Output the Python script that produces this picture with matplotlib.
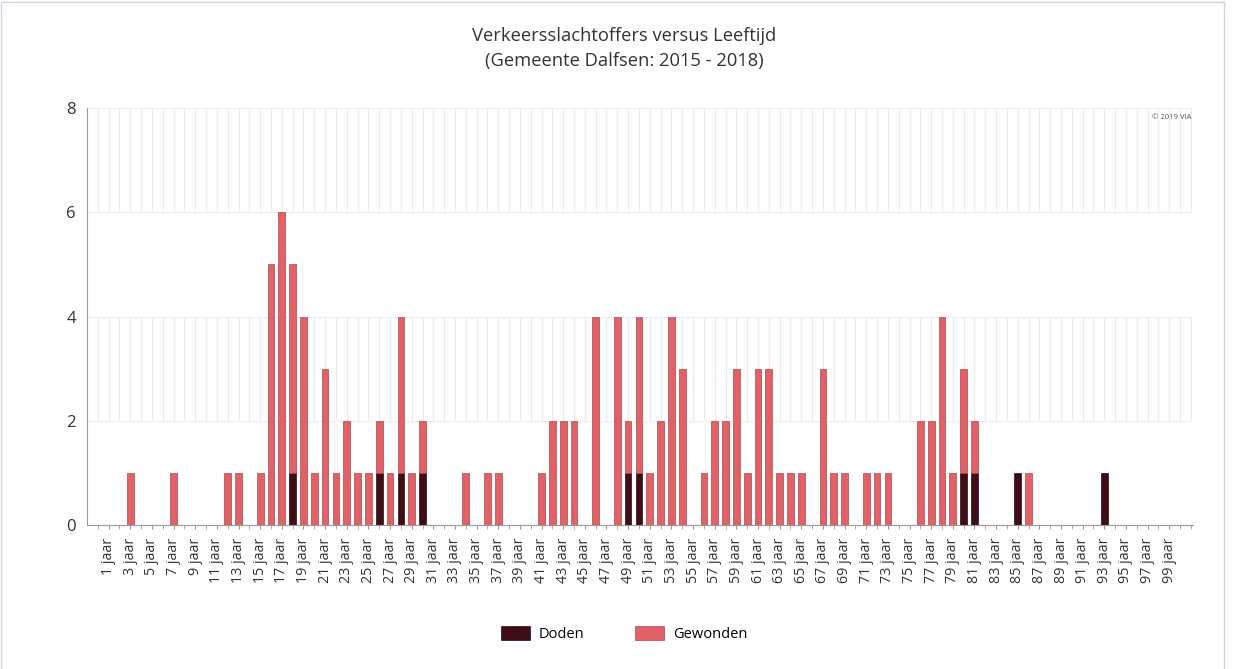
import numpy as np
import matplotlib.pyplot as plt
from matplotlib.patches import Patch, Rectangle

plt.rcParams['font.family'] = ['Open Sans', 'DejaVu Sans']

# leeftijden 0 .. 100
ages = list(range(0, 101))

gewonden = [
    0, 0, 0, 1, 0, 0, 0, 1, 0, 0,   # 0-9
    0, 0, 1, 1, 0, 1, 5, 6, 4, 4,   # 10-19
    1, 3, 1, 2, 1, 1, 1, 1, 3, 1,   # 20-29
    1, 0, 0, 0, 1, 0, 1, 1, 0, 0,   # 30-39
    0, 1, 2, 2, 2, 0, 4, 0, 4, 1,   # 40-49
    3, 1, 2, 4, 3, 0, 1, 2, 2, 3,   # 50-59
    1, 3, 3, 1, 1, 1, 0, 3, 1, 1,   # 60-69
    0, 1, 1, 1, 0, 0, 2, 2, 4, 1,   # 70-79
    2, 1, 0, 0, 0, 0, 1, 0, 0, 0,   # 80-89
    0, 0, 0, 0, 0, 0, 0, 0, 0, 0, 0,  # 90-100
]
doden_ages = [18, 26, 28, 30, 49, 50, 80, 81, 85, 93]
doden = [1 if a in doden_ages else 0 for a in ages]

tick_ages = list(range(1, 100, 2))
tick_labels = [f"{a} jaar" for a in tick_ages]

c_doden = '#3e0d16'
c_gewonden = '#e26166'

fig = plt.figure(figsize=(12.38, 6.69), dpi=100)
ax = fig.add_axes([0.0703, 0.2152, 0.8934, 0.6234])

x = np.array(ages)
d = np.array(doden)
g = np.array(gewonden)

# background grid: vertical lines only visible in bands 2-4 and 6-8
grid_x = np.arange(0, 102)
for lo, hi in [(2, 4), (6, 8)]:
    ax.vlines(grid_x, lo, hi, color='#ebebeb', lw=0.8, zorder=0)
for yv in [2, 4, 6, 8]:
    ax.axhline(yv, color='#eeeeee', lw=0.8, zorder=0)

w = 0.62
mask_d = d > 0
ax.bar(x[mask_d], d[mask_d], width=w, color=c_doden, edgecolor='#2a070c',
       linewidth=0.5, zorder=2)
mask_g = g > 0
ax.bar(x[mask_g], g[mask_g], width=w, bottom=d[mask_g], color=c_gewonden,
       edgecolor='#a8484c', linewidth=0.5, zorder=2)

ax.set_xlim(-1, 101.2)
ax.set_ylim(0, 8)
ax.set_yticks([0, 2, 4, 6, 8])
ax.tick_params(axis='y', length=0, labelsize=12, pad=8, colors='#333333')

ax.set_xticks(tick_ages)
ax.set_xticklabels(tick_labels, rotation=90, fontsize=10.3, color='#333333')
ax.set_xticks(range(0, 102), minor=True)
ax.tick_params(axis='x', which='both', length=3, color='#999999', pad=6)
ax.tick_params(axis='x', which='minor', length=3)

for s in ['top', 'right']:
    ax.spines[s].set_visible(False)
ax.spines['left'].set_color('#999999')
ax.spines['bottom'].set_color('#999999')

ax.text(0.999, 0.985, '© 2019 VIA', transform=ax.transAxes, ha='right',
        va='top', fontsize=5.5, color='#555555')

fig.text(0.504, 0.946, 'Verkeersslachtoffers versus Leeftijd',
         ha='center', va='center', fontsize=13.2, color='#333333')
fig.text(0.504, 0.909, '(Gemeente Dalfsen: 2015 - 2018)',
         ha='center', va='center', fontsize=13.2, color='#333333')

handles = [Patch(facecolor=c_doden, edgecolor='#2a070c', lw=0.5, label='Doden'),
           Patch(facecolor=c_gewonden, edgecolor='#a8484c', lw=0.5, label='Gewonden')]
fig.legend(handles=handles, loc='center', bbox_to_anchor=(0.504, 0.052),
           ncol=2, frameon=False, fontsize=10.5, handlelength=2.0,
           handleheight=1.1, columnspacing=3.5, handletextpad=0.6)

# light frame around the chart
fig.add_artist(Rectangle((0.001, -0.01), 0.988, 1.007, transform=fig.transFigure,
                         fill=False, edgecolor='#c9d5e2', lw=1.0))

fig.savefig('out.png', dpi=100)
